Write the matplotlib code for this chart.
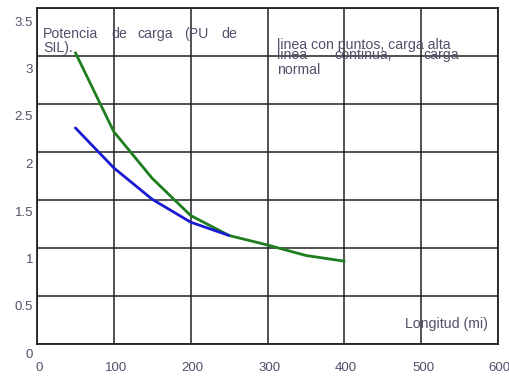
import numpy as np
import matplotlib.pyplot as plt

plt.rcParams['font.family'] = ['Liberation Sans', 'DejaVu Sans']

# longitud de la linea (mi) y potencia de carga (PU de SIL)
x_verde = [50, 100, 150, 200, 250, 300, 350, 400]
y_verde = [3.18, 2.35, 1.86, 1.47, 1.26, 1.16, 1.05, 0.99]
x_azul = [50, 100, 150, 200, 250]
y_azul = [2.39, 1.97, 1.64, 1.40, 1.26]

x_ticks = [0, 100, 200, 300, 400, 500, 600]
y_ticks = [0, 0.5, 1, 1.5, 2, 2.5, 3, 3.5]

W, H = 510, 376
txt_color = '#50506a'
fs = 9.5
fs_note = 10.2

fig = plt.figure(figsize=(W / 100, H / 100), dpi=100)
ax = fig.add_axes([37 / W, 1 - 344 / H, 461 / W, 336 / H])

# the scanned grid sits a bit above the printed labels
ax.set_xlim(0, 600)
ax.set_ylim(0.12, 3.65)
ax.set_xticks(x_ticks)
ax.set_yticks(np.linspace(0.12, 3.65, 8))
ax.tick_params(length=0, labelleft=False, labelbottom=False)
ax.grid(True, color='#222222', lw=1.1)
for s in ax.spines.values():
    s.set_color('#222222')
    s.set_linewidth(1.3)

ax.plot(x_verde, y_verde, color='#1e7d1e', lw=2.0, solid_capstyle='round')
ax.plot(x_azul, y_azul, color='#1a1ad2', lw=2.0, solid_capstyle='round')


def px(x, y):
    return x / W, 1 - y / H


# tick labels, placed where the scan prints them
for v in y_ticks:
    fig.text(33 / W, 1 - (355 - v * 95) / H, f'{v:g}', ha='right', va='center',
             fontsize=fs, color=txt_color)
for v in x_ticks:
    fig.text(*px(39 + v * 0.768, 368), f'{v:g}', ha='center', va='center',
             fontsize=fs, color=txt_color)

# justified annotation text
for word, xp in [('Potencia', 43), ('de', 111), ('carga', 137), ('(PU', 184), ('de', 221)]:
    fig.text(*px(xp, 34), word, ha='left', va='center', fontsize=fs_note, color=txt_color)
fig.text(*px(43, 48), 'SIL).', ha='left', va='center', fontsize=fs_note, color=txt_color)

fig.text(*px(277, 45), 'linea con puntos, carga alta', ha='left', va='center',
         fontsize=fs_note, color=txt_color)
for word, xp in [('linea', 277), ('continua,', 334), ('carga', 423)]:
    fig.text(*px(xp, 55), word, ha='left', va='center', fontsize=fs_note, color=txt_color)
fig.text(*px(277, 70), 'normal', ha='left', va='center', fontsize=fs_note, color=txt_color)

fig.text(*px(405, 324), 'Longitud (mi)', ha='left', va='center', fontsize=fs_note, color=txt_color)

fig.savefig('out.png', dpi=100, facecolor='white')
